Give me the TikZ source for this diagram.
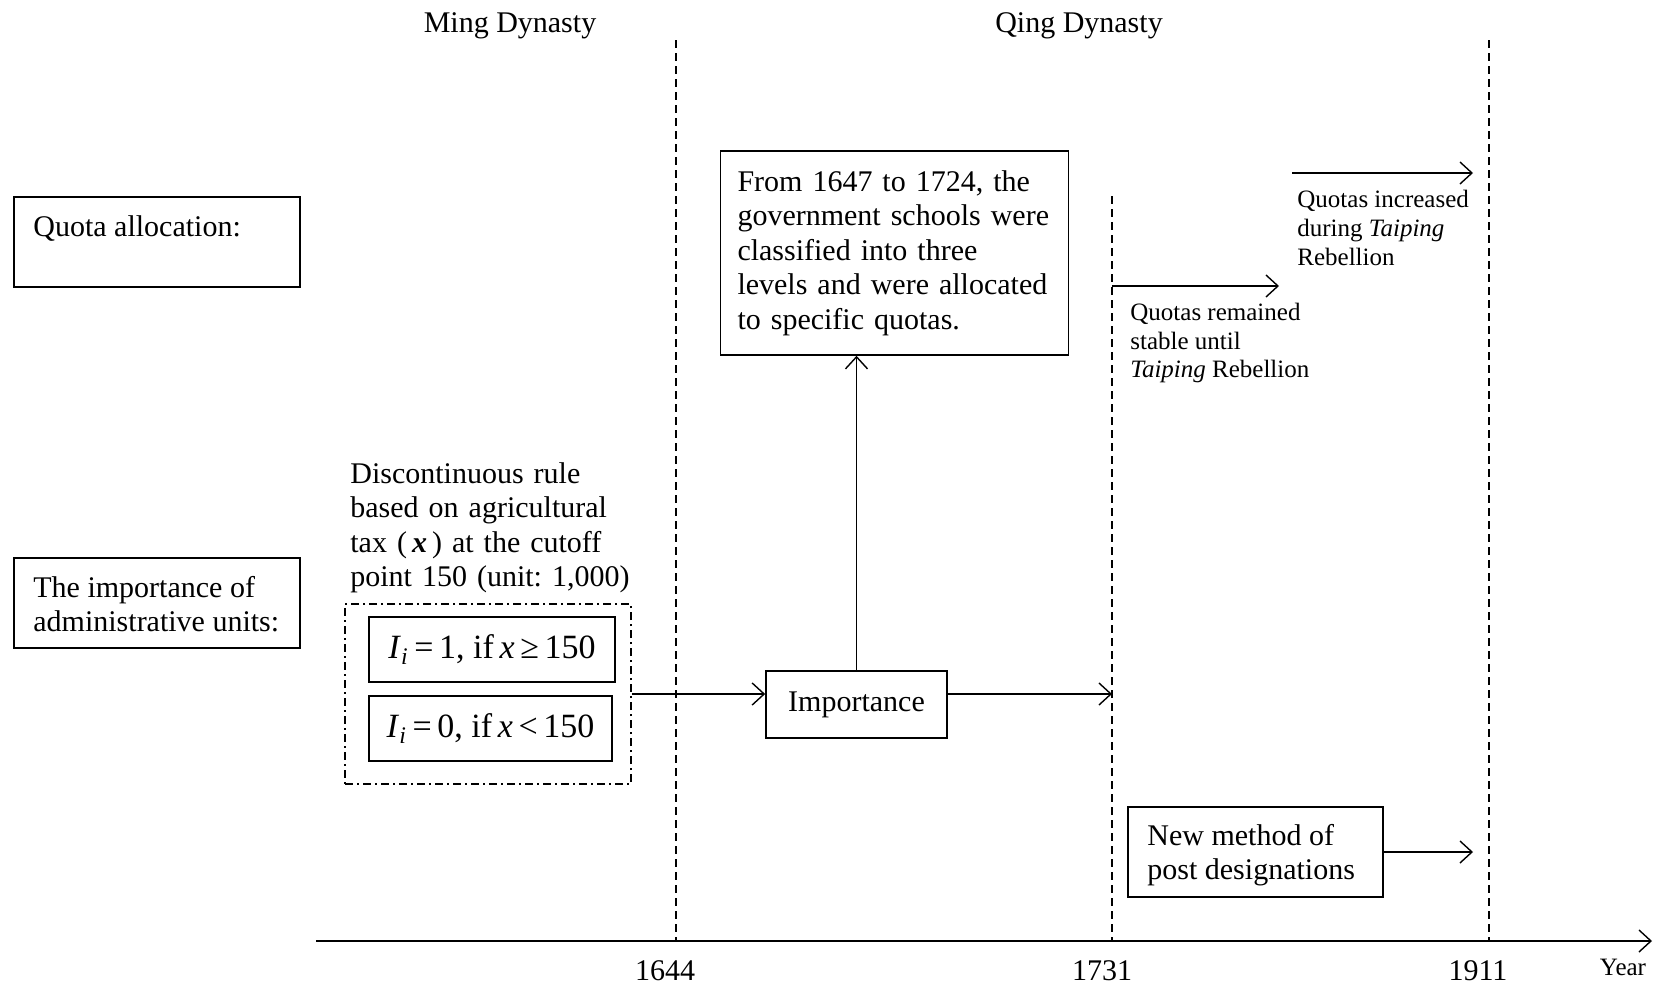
\documentclass[tikz,border=0pt]{standalone}
\usepackage{fontspec}
\setmainfont{Liberation Serif}
\usetikzlibrary{arrows.meta, positioning, calc}
\newcommand{\mainsize}{\fontsize{15}{17.25}\selectfont}
\newcommand{\notesize}{\fontsize{12.5}{14.3}\selectfont}
\newcommand{\eqsize}{\fontsize{17}{20}\selectfont}
\frenchspacing

\begin{document}
\begin{tikzpicture}[
    x=0.5pt, y=-0.5pt,
    every node/.style={font=\mainsize},
    framebox/.style={rectangle, draw, line width=0.8pt},
    textblock/.style={align=left, inner sep=0pt, anchor=west},
    period/.style={dash pattern=on 4pt off 2.5pt, line width=0.7pt},
    arrow/.style={->, >={Straight Barb[length=6pt,width=11pt]}, line width=0.7pt},
    eqbox/.style={framebox, minimum height=32.5pt, font=\eqsize}
]
\useasboundingbox (0,0) rectangle (1661,985);

% Dynasty titles
\node (ming) at (510,26) {Ming Dynasty};
\node (qing) at (1079,26) {Qing Dynasty};

% Row labels
\node[framebox, minimum width=143pt, minimum height=45pt] (quota) at (157,242) {};
\node[textblock] (quotatxt) at (33,229) {Quota allocation:};
\node[framebox, minimum width=143pt, minimum height=45pt] (units) at (157,603) {};
\node[textblock] (unitstxt) at (33,604) {The importance of\\administrative units:};

% Timeline and period borders
\coordinate (axstart) at (316,941);
\coordinate (axend) at (1652,941);
\draw[arrow] (axstart) -- (axend);
\coordinate (top1644) at (676,40);
\coordinate (bot1644) at (676,941);
\coordinate (top1731) at (1112,196);
\coordinate (bot1731) at (1112,941);
\coordinate (top1911) at (1489,40);
\coordinate (bot1911) at (1489,941);
\draw[period] (top1644) -- (bot1644);
\draw[period] (top1731) -- (bot1731);
\draw[period] (top1911) -- (bot1911);
\node (lab1644) at (665,971) {1644};
\node (lab1731) at (1102,971) {1731};
\node (lab1911) at (1478,971) {1911};
\node[font=\notesize] (yearlab) at (1623,967) {Year};

% Ming rule
\node[textblock, text width=150pt] (ruletxt) at (350,528) {Discontinuous rule\\based on agricultural\\tax (\,\textbf{\textit{x}}\,) at the cutoff\\point 150 (unit: 1,000)};
\node[framebox, dash pattern=on 4pt off 2pt on 1pt off 2pt, minimum width=143pt, minimum height=90pt] (rulebox) at (488,694) {};
\node[eqbox, minimum width=123pt] (ruleone) at (492,649.5) {\textit{I}\textsubscript{\textit{i}}\,=\,1, if\,\textit{x}\,≥\,150};
\node[eqbox, minimum width=121.5pt] (rulezero) at (490.5,728.5) {\textit{I}\textsubscript{\textit{i}}\,=\,0, if\,\textit{x}\,<\,150};

% Qing importance
\node[framebox, minimum width=90.5pt, minimum height=33.5pt] (importance) at (856.5,704.5) {Importance};
\node[framebox, align=left, text width=157pt, inner xsep=8.5pt, minimum height=102pt] (schools) at (894.5,253) {From 1647 to 1724, the\\government schools were\\classified into three\\levels and were allocated\\to specific quotas.};
\coordinate (mid1731) at (1112,694);
\draw[arrow] (rulebox.east) -- (rulebox.east -| importance.west);
\draw[arrow] (importance.north) -- (importance.north |- schools.south);
\draw[arrow] (rulebox.east -| importance.east) -- (mid1731);

% After 1731
\coordinate (stablestart) at (1112,286);
\coordinate (stableend) at (1279,286);
\draw[arrow] (stablestart) -- (stableend);
\node[textblock, font=\notesize] (stabletxt) at (1130,343) {Quotas remained\\stable until\\\textit{Taiping} Rebellion};
\coordinate (risestart) at (1292,173);
\coordinate (riseend) at (1473,173);
\draw[arrow] (risestart) -- (riseend);
\node[textblock, font=\notesize] (risetxt) at (1297,228) {Quotas increased\\during \textit{Taiping}\\Rebellion};

% Post designations
\node[framebox, minimum width=127.5pt, minimum height=45pt] (postbox) at (1255.5,852) {};
\node[textblock] (posttxt) at (1147,855) {New method of\\post designations};
\coordinate (postend) at (1473,852);
\draw[arrow] (postbox.east) -- (postend);

\end{tikzpicture}
\end{document}
